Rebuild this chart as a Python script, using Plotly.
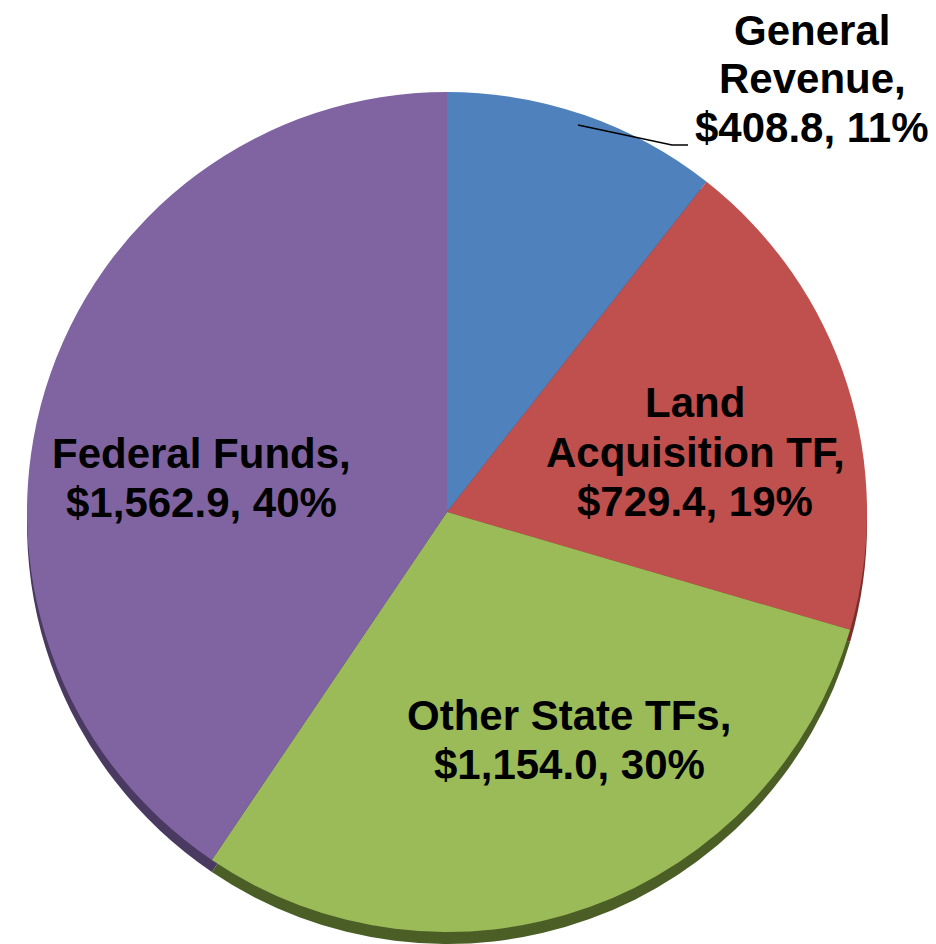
import plotly.graph_objects as go

categories = ["General Revenue", "Land Acquisition TF", "Other State TFs", "Federal Funds"]
values = [408.8, 729.4, 1154.0, 1562.9]
percents = [11, 19, 30, 40]
name_lines = [["General", "Revenue,"], ["Land", "Acquisition TF,"], ["Other State TFs,"], ["Federal Funds,"]]
colors = ["#4F81BD", "#C0504D", "#9BBB59", "#8064A2"]
rim_colors = ["#2E4E75", "#7A2F2D", "#4B5E26", "#4A3A62"]

W, H = 936, 944
cx, cy, r, depth = 447, 512, 420, 12

def px_x(x):
    return x / W

def px_y(y):
    return 1 - y / H

fig = go.Figure()
# 3D rim (drawn behind, shifted down)
fig.add_trace(go.Pie(
    labels=categories, values=values, sort=False, direction="clockwise", rotation=0,
    marker=dict(colors=rim_colors, line=dict(width=0)), textinfo="none", hoverinfo="skip",
    showlegend=False,
    domain=dict(x=[px_x(cx - r), px_x(cx + r)], y=[px_y(cy + depth + r), px_y(cy + depth - r)]),
))
# top face
fig.add_trace(go.Pie(
    labels=categories, values=values, sort=False, direction="clockwise", rotation=0,
    marker=dict(colors=colors, line=dict(width=0)), textinfo="none",
    showlegend=False,
    domain=dict(x=[px_x(cx - r), px_x(cx + r)], y=[px_y(cy + r), px_y(cy - r)]),
))

# label block: x centre, first line y (pixels)
label_pos = [(812, 27), (695, 400), (569, 712), (201, 450)]
step = 49
for lines, v, p, (x, y0) in zip(name_lines, values, percents, label_pos):
    all_lines = lines + [f"${v:,.1f}, {p}%"]
    for i, line in enumerate(all_lines):
        fig.add_annotation(
            x=px_x(x), y=px_y(y0 + i * step + 3), xref="paper", yref="paper", showarrow=False,
            text="<b>" + line + "</b>", align="center", xanchor="center", yanchor="middle",
            font=dict(family="Liberation Sans, Arial, sans-serif", size=42, color="black"),
        )

# leader line for General Revenue
fig.add_shape(
    type="path", xref="paper", yref="paper",
    path=f"M {px_x(578)} {px_y(125)} L {px_x(672)} {px_y(145)} L {px_x(688)} {px_y(145)}",
    line=dict(color="black", width=1.5),
)

fig.update_layout(
    width=W, height=H, margin=dict(l=0, r=0, t=0, b=0),
    paper_bgcolor="white", plot_bgcolor="white",
)
fig.write_html(
    "out.html",
    config={"displayModeBar": False},
    post_script="document.body.style.margin='0';document.body.style.overflow='hidden';",
)
